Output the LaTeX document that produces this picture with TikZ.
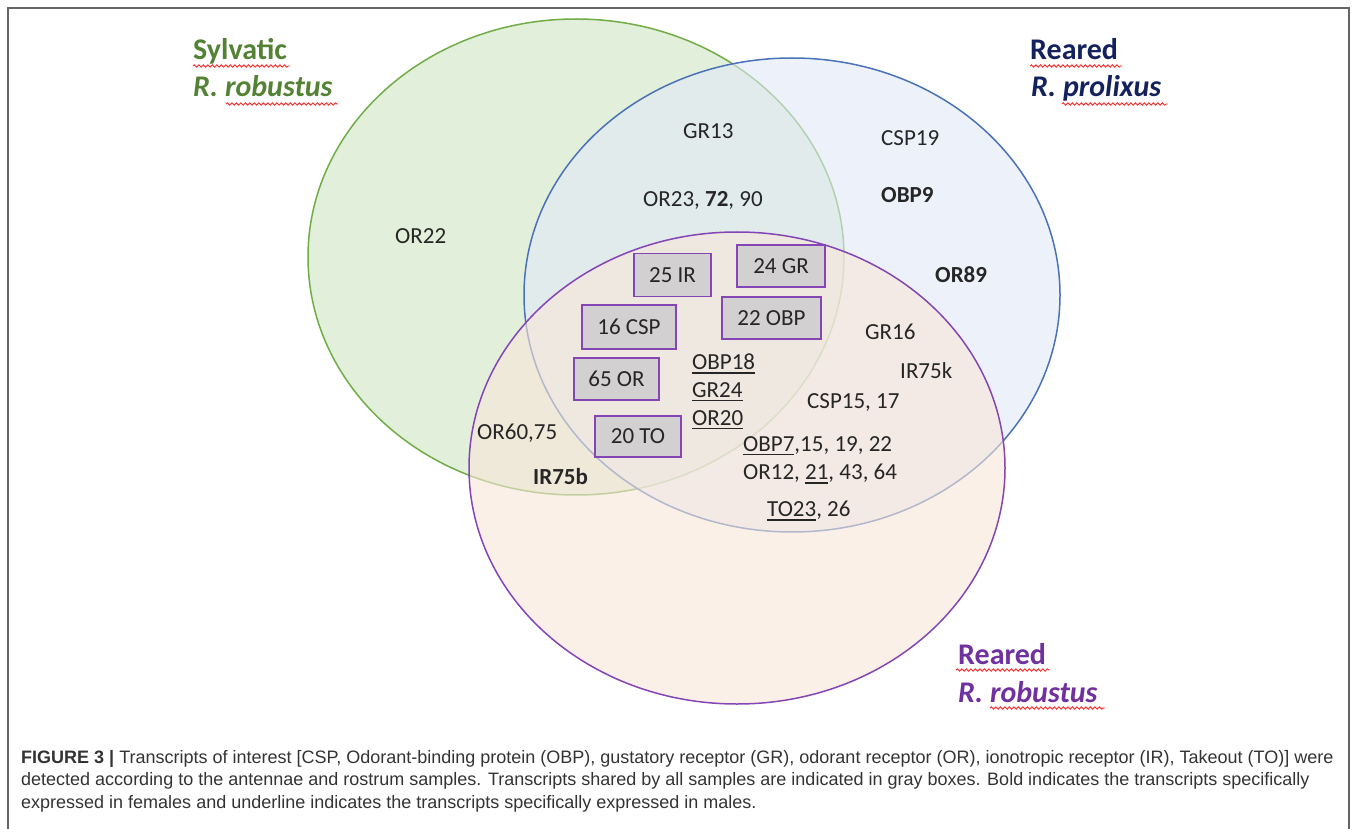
\documentclass[tikz,border=0pt]{standalone}
\usepackage{fontspec}
\setmainfont{Carlito}
\newfontfamily\capfont{Liberation Sans}
\usetikzlibrary{positioning, decorations.pathmorphing}
\newcommand{\vennsize}{\fontsize{23}{28}\selectfont}
\newcommand{\titlesize}{\fontsize{30}{36}\selectfont}
\newcommand{\undl}[1]{{\setbox0\hbox{#1}\rlap{\rule[-4pt]{\wd0}{1.4pt}}\box0}}
\definecolor{sylline}{HTML}{70AD47}
\definecolor{sylfill}{HTML}{CFE4C1}
\definecolor{proline}{HTML}{4A72B8}
\definecolor{profill}{HTML}{E1E9F7}
\definecolor{robline}{HTML}{8545B5}
\definecolor{robfill}{HTML}{F8E6D9}
\definecolor{syltitle}{HTML}{548235}
\definecolor{protitle}{HTML}{13225E}
\definecolor{robtitle}{HTML}{7030A0}
\definecolor{boxgray}{HTML}{D2D0D0}

\begin{document}
\begin{tikzpicture}[
        x = 1pt, y = -1pt,
        every node/.style = {inner sep = 0pt, font = \vennsize, text = black!85},
        sample/.style = {line width = 1.5pt, fill opacity = 0.6},
        shared/.style = {draw = robline, fill = boxgray, line width = 1.8pt},
        item/.style = {anchor = west},
        title/.style = {anchor = base west, font = \titlesize\bfseries},
        squiggle/.style = {draw = red!85, line width = 0.9pt, decorate,
          decoration = {snake, amplitude = 1.2pt, segment length = 4.5pt}},
        frame/.style = {draw = black!60, line width = 1.5pt}
      ]
      \useasboundingbox (0,0) rectangle (1358,829);
      \draw[frame] (8,829) -- (8,8) -- (1349,8) -- (1349,829);

      \draw[sample, draw = sylline, fill = sylfill] (576,257) ellipse [x radius = 268pt, y radius = 238pt];
      \draw[sample, draw = proline, fill = profill] (792,295) ellipse [x radius = 268pt, y radius = 237pt];
      \draw[sample, draw = robline, fill = robfill] (737,468) ellipse [x radius = 268pt, y radius = 236pt];

      \node[title, text = syltitle] (sylname) at (193,60) {Sylvatic};
      \node[title, text = syltitle] (sylspecies) at (193,97) {\itshape R. robustus};
      \node[title, text = protitle] (proname) at (1030,60) {Reared};
      \node[title, text = protitle] (prospecies) at (1031,97) {\itshape R. prolixus};
      \node[title, text = robtitle] (robname) at (958,664) {Reared};
      \node[title, text = robtitle] (robspecies) at (958,702) {\itshape R. robustus};
      \draw[squiggle] (193,66) -- (290,66);
      \draw[squiggle] (226,104) -- (338,104);
      \draw[squiggle] (1030,66) -- (1122,66);
      \draw[squiggle] (1062,104) -- (1168,104);
      \draw[squiggle] (956,670) -- (1050,670);
      \draw[squiggle] (990,708) -- (1105,708);

      \node[shared, minimum width = 77pt, minimum height = 43pt] (ir) at (672.5,275) {25 IR};
      \node[shared, minimum width = 88pt, minimum height = 42pt] (gr) at (781,266) {24 GR};
      \node[shared, minimum width = 94pt, minimum height = 44pt] (csp) at (629,327) {16 CSP};
      \node[shared, minimum width = 99pt, minimum height = 42pt] (obp) at (771.5,318) {22 OBP};
      \node[shared, minimum width = 85pt, minimum height = 42pt] (or) at (616.5,379) {65 OR};
      \node[shared, minimum width = 86pt, minimum height = 41pt] (to) at (638,436.5) {20 TO};

      \node[item] (or22) at (395,236) {OR22};
      \node[item] (gr13) at (683,131) {GR13};
      \node[item] (or23) at (643,200) {OR23, \textbf{72}, 90};
      \node[item] (csp19) at (881,138) {CSP19};
      \node[item] (obp9) at (881,195) {\textbf{OBP9}};
      \node[item] (or89) at (935,275) {\textbf{OR89}};
      \node[item] (gr16) at (865,332) {GR16};
      \node[item] (ir75k) at (900,371) {IR75k};
      \node[item] (csp15) at (807,403) {CSP15, 17};
      \node[item] (obp18) at (692,364) {\undl{OBP18}};
      \node[item] (gr24) at (692,392) {\undl{GR24}};
      \node[item] (or20) at (692,420) {\undl{OR20}};
      \node[item] (obp7) at (743,446) {\undl{OBP7},15, 19, 22};
      \node[item] (or12) at (743,474) {OR12, \undl{21}, 43, 64};
      \node[item] (to23) at (767,511) {\undl{TO23}, 26};
      \node[item] (or60) at (477,433) {OR60,75};
      \node[item] (ir75b) at (533,477) {\textbf{IR75b}};

      \node[anchor = north west, align = left, text = black!80,
        font = \capfont\fontsize{18}{22.5}\selectfont] (caption) at (21,750)
        {\textbf{FIGURE 3 |} Transcripts of interest [CSP, Odorant-binding protein (OBP), gustatory receptor (GR), odorant receptor (OR), ionotropic receptor (IR), Takeout (TO)] were\\
         detected according to the antennae and rostrum samples. Transcripts shared by all samples are indicated in gray boxes. Bold indicates the transcripts specifically\\
         expressed in females and underline indicates the transcripts specifically expressed in males.};
    \end{tikzpicture}
\end{document}
